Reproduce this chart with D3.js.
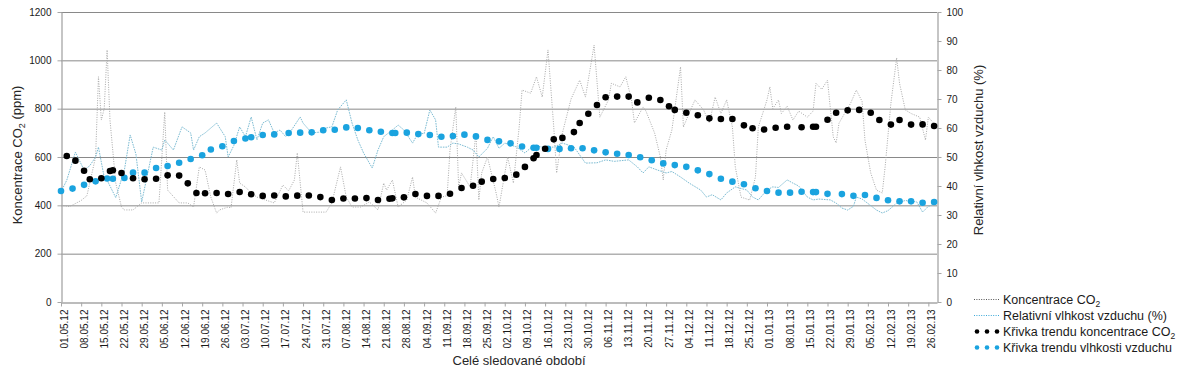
<!DOCTYPE html>
<html>
<head>
<meta charset="utf-8">
<script src="https://cdn.jsdelivr.net/npm/d3@7"></script>
<style>
  body { margin: 0; background: #fff; }
  svg { display: block; font-family: 'Liberation Sans', Arial, sans-serif; }
</style>
</head>
<body>
<svg id="chart" width="1177" height="370"></svg>
<script>
// popisky osy x - tydny
var weekLabels = ['01.05.12', '08.05.12', '15.05.12', '22.05.12', '29.05.12', '05.06.12', '12.06.12', '19.06.12',
  '26.06.12', '03.07.12', '10.07.12', '17.07.12', '24.07.12', '31.07.12', '07.08.12', '14.08.12', '21.08.12',
  '28.08.12', '04.09.12', '11.09.12', '18.09.12', '25.09.12', '02.10.12', '09.10.12', '16.10.12', '23.10.12',
  '30.10.12', '06.11.12', '13.11.12', '20.11.12', '27.11.12', '04.12.12', '11.12.12', '18.12.12', '25.12.12',
  '01.01.13', '08.01.13', '15.01.13', '22.01.13', '29.01.13', '05.02.13', '12.02.13', '19.02.13', '26.02.13']
var co2Ticks = [0, 200, 400, 600, 800, 1000, 1200]
var humTicks = [0, 10, 20, 30, 40, 50, 60, 70, 80, 90, 100]

var periodStart = '2012-05-01'
var periodEnd = '2013-03-01'

// mereni CO2 (ppm), den = pocet dni od 1.5.2012
var co2Days = [0, 3, 7, 9, 12, 13, 14, 15, 16, 17, 19, 21, 22, 25, 28, 34, 36, 37, 41, 44, 46, 48, 50, 52, 54, 55, 58, 59,
  61, 62, 64, 66, 68, 71, 74, 77, 79, 81, 82, 84, 88, 92, 94, 97, 99, 101, 104, 107, 110, 112, 113, 115, 117, 120,
  122, 123, 127, 130, 132, 134, 135, 137, 138, 139, 142, 144, 145, 146, 148, 151, 152, 155, 157, 159, 160, 163, 165,
  167, 169, 171, 172, 174, 177, 180, 182, 185, 187, 190, 191, 194, 196, 198, 199, 202, 203, 206, 208, 209, 210, 212,
  215, 216, 218, 220, 223, 225, 227, 229, 231, 233, 234, 236, 239, 241, 242, 245, 246, 247, 249, 250, 252, 254, 256,
  259, 261, 262, 264, 266, 267, 268, 269, 270, 272, 274, 276, 278, 279, 281, 283, 285, 286, 288, 290, 291, 293, 295,
  298, 300, 301, 304]
var co2Values = [400, 395, 420, 440, 600, 932, 753, 800, 1043, 753, 492, 393, 381, 381, 410, 410, 786, 463, 410, 410,
  393, 559, 546, 434, 368, 381, 393, 390, 588, 492, 476, 451, 434, 422, 410, 484, 460, 505, 617, 372, 372, 372, 410,
  559, 434, 393, 393, 414, 381, 492, 463, 505, 393, 422, 517, 434, 410, 368, 434, 440, 629, 807, 476, 534, 476, 699,
  422, 534, 600, 451, 393, 600, 492, 724, 877, 864, 932, 848, 1043, 724, 534, 699, 840, 918, 848, 1063, 765, 836, 905,
  890, 932, 836, 741, 807, 790, 699, 600, 505, 629, 712, 973, 724, 782, 836, 795, 741, 848, 780, 836, 724, 559, 434,
  422, 517, 724, 836, 890, 800, 836, 780, 810, 753, 790, 765, 790, 905, 880, 918, 800, 683, 658, 740, 782, 822, 877,
  830, 670, 534, 463, 451, 559, 822, 1010, 905, 795, 780, 765, 670, 765, 724]

// mereni relativni vlhkosti (%)
var humDays = [0, 2, 5, 8, 10, 12, 13, 15, 16, 19, 22, 24, 26, 28, 32, 35, 36, 39, 42, 45, 46, 48, 50, 54, 57, 58, 60, 62,
  64, 66, 68, 70, 72, 74, 76, 78, 80, 83, 84, 87, 90, 92, 94, 96, 99, 101, 103, 105, 108, 110, 112, 115, 117, 119, 122,
  124, 126, 128, 130, 131, 134, 136, 138, 141, 143, 145, 148, 150, 152, 154, 158, 161, 164, 167, 171, 174, 178, 182,
  186, 189, 192, 197, 200, 202, 204, 207, 210, 212, 215, 218, 222, 224, 226, 229, 231, 234, 238, 240, 242, 245, 247,
  249, 252, 254, 256, 259, 261, 263, 267, 269, 271, 273, 275, 276, 278, 280, 283, 285, 287, 290, 293, 297, 299, 301, 304]
var humValues = [38, 42, 51.7, 45.5, 47, 50, 53.4, 43, 42, 36, 45.5, 57.6, 51, 34.5, 53.4, 52.4, 55.9, 52.4, 60.4, 58.3,
  52.4, 57, 58.3, 61.7, 57, 50, 54, 60.4, 57, 63.8, 55.9, 61.7, 62.8, 58.3, 59.3, 57, 59.3, 63.8, 61.7, 58.3, 58.6, 60,
  60.4, 66.2, 69.7, 61.7, 55.9, 51.4, 46.2, 52.4, 57, 59.3, 61, 59.3, 54.8, 58.3, 58, 66.2, 62.8, 53.4, 53.4, 54.8,
  54.5, 53.4, 52.4, 50, 53, 57, 53, 54.8, 53.5, 51.4, 54, 53.4, 53.4, 54.8, 53.5, 47.9, 48, 49, 48.5, 49, 46.6, 44.5,
  46.6, 45.5, 44.5, 45, 43.1, 41, 38.6, 36.2, 37, 35.2, 37.6, 39.7, 38.6, 36.2, 35.2, 38.6, 39.7, 39.5, 42.1, 41, 40,
  36.2, 35.2, 35.5, 35.2, 34.1, 32.4, 31.7, 33, 36.2, 35.5, 34, 31.7, 30.7, 31.5, 34.1, 35, 34.5, 31, 33, 34]

// krivka trendu koncentrace CO2
var co2TrendDays = [2, 5, 8, 10, 14, 17, 18, 21, 25, 29, 33, 37, 41, 44, 47, 50, 54, 58, 62, 66, 70, 74, 78, 82, 86, 90,
  94, 98, 102, 106, 110, 114, 115, 119, 123, 127, 131, 135, 139, 143, 146, 150, 154, 158, 161, 164, 165, 168, 171, 174,
  178, 180, 183, 186, 189, 193, 197, 200, 204, 208, 211, 213, 217, 221, 225, 229, 233, 237, 240, 244, 248, 252, 257,
  261, 262, 266, 269, 273, 277, 281, 284, 288, 291, 295, 299, 303]
var co2TrendValues = [604, 585, 543, 508, 512, 542, 545, 534, 512, 508, 510, 524, 523, 491, 451, 450, 451, 447, 455, 446,
  439, 441, 437, 440, 441, 434, 422, 428, 428, 430, 422, 427, 429, 433, 447, 439, 439, 448, 472, 481, 498, 509, 513,
  527, 559, 595, 608, 634, 673, 679, 703, 741, 779, 815, 847, 850, 850, 826, 845, 836, 810, 795, 783, 773, 760, 757,
  757, 731, 719, 714, 721, 725, 723, 725, 725, 754, 783, 793, 795, 783, 753, 734, 753, 734, 735, 728]

// krivka trendu vlhkosti vzduchu
var humTrendDays = [0, 4, 8, 12, 16, 18, 22, 25, 29, 33, 37, 41, 45, 49, 52, 56, 60, 64, 66, 70, 74, 79, 83, 87, 91, 95,
  99, 103, 107, 111, 115, 116, 120, 124, 128, 132, 136, 140, 144, 148, 152, 156, 160, 164, 165, 169, 173, 177, 181,
  185, 189, 193, 197, 201, 205, 209, 213, 217, 221, 225, 229, 233, 237, 241, 245, 249, 253, 257, 261, 262, 266, 271,
  275, 279, 283, 287, 291, 295, 299, 303]
var humTrendValues = [38.3, 39.1, 40.4, 41.6, 42.6, 42.5, 42.8, 44.6, 44.6, 46.2, 46.9, 48.0, 49.3, 50.6, 52.6, 53.7,
  55.5, 56.4, 56.8, 57.6, 57.8, 58.3, 58.4, 58.5, 59.2, 59.4, 60.2, 60.0, 59.2, 58.7, 58.3, 58.3, 58.4, 57.9, 57.6,
  57.0, 57.2, 57.7, 57.1, 55.9, 55.4, 54.7, 53.6, 53.2, 53.2, 52.8, 52.8, 53.0, 53.0, 52.3, 51.6, 51.1, 50.7, 49.9,
  48.9, 47.8, 47.2, 46.6, 45.4, 44.1, 42.5, 41.5, 40.6, 39.2, 38.3, 37.7, 37.7, 38.0, 37.9, 37.9, 37.3, 37.2, 36.6,
  36.9, 35.9, 35.1, 34.7, 34.7, 34.2, 34.5]

var svg = d3.select('#chart')
var plot = {left: 61, right: 937, top: 12, bottom: 302}
var start = d3.utcParse('%Y-%m-%d')(periodStart)
var end = d3.utcParse('%Y-%m-%d')(periodEnd)
var parseLabel = d3.utcParse('%d.%m.%y')

var x = d3.scaleUtc().domain([start, end]).range([plot.left, plot.right])
var yCo2 = d3.scaleLinear().domain([0, 1200]).range([plot.bottom, plot.top])
var yHum = d3.scaleLinear().domain([0, 100]).range([plot.bottom, plot.top])

function toPoints (days, values) {
  return days.map(function (d, i) {
    return {date: d3.utcDay.offset(start, d), v: values[i]}
  })
}

var co2Raw = toPoints(co2Days, co2Values)
var humRaw = toPoints(humDays, humValues)
var co2Trend = toPoints(co2TrendDays, co2TrendValues)
var humTrend = toPoints(humTrendDays, humTrendValues)

var axisColor = '#a6a6a6'

// mrizka
svg.append('g').selectAll('line')
  .data(co2Ticks.filter(function (t) { return t > 0 }))
  .join('line')
  .attr('x1', plot.left).attr('x2', plot.right)
  .attr('y1', function (d) { return yCo2(d) + 0.5 })
  .attr('y2', function (d) { return yCo2(d) + 0.5 })
  .attr('stroke', '#898989').attr('stroke-width', 1)

// osy
var axisLeft = svg.append('g')
  .attr('transform', 'translate(' + (plot.left + 0.5) + ',0)')
  .call(d3.axisLeft(yCo2).tickValues(co2Ticks).tickFormat(d3.format('d'))
    .tickSize(4).tickSizeOuter(0).tickPadding(6))
var axisRight = svg.append('g')
  .attr('transform', 'translate(' + (plot.right + 0.5) + ',0)')
  .call(d3.axisRight(yHum).tickValues(humTicks).tickFormat(d3.format('d'))
    .tickSize(4).tickSizeOuter(0).tickPadding(5))
var axisBottom = svg.append('g')
  .attr('transform', 'translate(0,' + (plot.bottom + 0.5) + ')')
  .call(d3.axisBottom(x).tickValues(weekLabels.map(parseLabel)).tickSize(4).tickSizeOuter(0)
    .tickFormat(function (d, i) { return weekLabels[i] }))

axisBottom.selectAll('text')
  .attr('transform', 'rotate(-90)')
  .attr('x', -7).attr('y', 0).attr('dy', '0.6em')
  .style('text-anchor', 'end')

;[axisLeft, axisRight, axisBottom].forEach(function (a) {
  a.select('.domain').attr('stroke', axisColor).attr('stroke-width', 1.3)
  a.selectAll('.tick line').attr('stroke', axisColor)
  a.selectAll('.tick text').attr('fill', '#1a1a1a').style('font-size', '10px')
    .style('font-family', "'Liberation Sans', Arial, sans-serif")
})

// namerena data
var lineCo2 = d3.line().x(function (d) { return x(d.date) }).y(function (d) { return yCo2(d.v) })
var lineHum = d3.line().x(function (d) { return x(d.date) }).y(function (d) { return yHum(d.v) })

svg.append('path').datum(co2Raw)
  .attr('d', lineCo2).attr('fill', 'none')
  .attr('stroke', '#a9a9a9').attr('stroke-width', 1).attr('stroke-dasharray', '1,1.4')
svg.append('path').datum(humRaw)
  .attr('d', lineHum).attr('fill', 'none')
  .attr('stroke', '#7dbcd3').attr('stroke-width', 1).attr('stroke-dasharray', '1.6,1')

// trendy
svg.append('g').selectAll('circle').data(humTrend).join('circle')
  .attr('cx', function (d) { return x(d.date) })
  .attr('cy', function (d) { return yHum(d.v) })
  .attr('r', 3.3).attr('fill', '#1aa3df')
svg.append('g').selectAll('circle').data(co2Trend).join('circle')
  .attr('cx', function (d) { return x(d.date) })
  .attr('cy', function (d) { return yCo2(d.v) })
  .attr('r', 3.3).attr('fill', '#000')

// popisky os
var leftTitle = svg.append('text')
  .attr('transform', 'translate(22,' + 155 + ') rotate(-90)')
  .attr('text-anchor', 'middle').attr('fill', '#262626').style('font-size', '13px')
leftTitle.append('tspan').text('Koncentrace CO')
leftTitle.append('tspan').text('2').attr('dy', '0.3em').style('font-size', '9px')
leftTitle.append('tspan').text(' (ppm)').attr('dy', '-0.3em')

svg.append('text')
  .attr('transform', 'translate(983,' + 150 + ') rotate(-90)')
  .attr('text-anchor', 'middle').attr('fill', '#262626').style('font-size', '13px')
  .text('Relativní vlhkost vzduchu (%)')

svg.append('text')
  .attr('x', 519).attr('y', 365)
  .attr('text-anchor', 'middle').attr('fill', '#262626').style('font-size', '13px')
  .text('Celé sledované období')

// legenda
var legendItems = [
  {label: 'Koncentrace CO', sub: '2', kind: 'line', color: '#555'},
  {label: 'Relativní vlhkost vzduchu (%)', sub: null, kind: 'line', color: '#3aa8d8'},
  {label: 'Křivka trendu koncentrace CO', sub: '2', kind: 'dots', color: '#000'},
  {label: 'Křivka trendu vlhkosti vzduchu', sub: null, kind: 'dots', color: '#1aa3df'}
]

var legend = svg.append('g').attr('transform', 'translate(974,299)')
legendItems.forEach(function (item, i) {
  var row = legend.append('g').attr('transform', 'translate(0,' + (i * 16) + ')')
  if (item.kind === 'line') {
    row.append('line').attr('x1', 0).attr('x2', 26).attr('y1', 0.5).attr('y2', 0.5)
      .attr('stroke', item.color).attr('stroke-width', 1).attr('stroke-dasharray', '1,1.4')
  } else {
    ;[3, 13, 23].forEach(function (cx) {
      row.append('circle').attr('cx', cx).attr('cy', 0.5).attr('r', 2.3).attr('fill', item.color)
    })
  }
  var t = row.append('text').attr('x', 29).attr('y', 5)
    .attr('fill', '#1a1a1a').style('font-size', '12.5px')
  t.append('tspan').text(item.label)
  if (item.sub) {
    t.append('tspan').text(item.sub).attr('dy', '0.3em').style('font-size', '8.5px')
  }
})
</script>
</body>
</html>
